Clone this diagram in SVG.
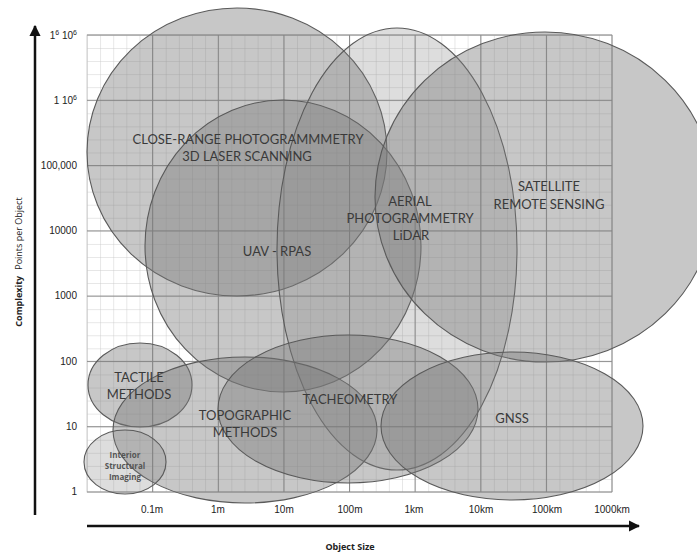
<svg xmlns="http://www.w3.org/2000/svg" width="697" height="554" viewBox="0 0 697 554">
  <style>
    .tick { font-family: "Liberation Sans", Arial, sans-serif; font-size: 10px; fill: #222; }
    .lbl { font-family: Lato, "Open Sans", sans-serif; font-size: 13px; fill: #3a3a3a; text-anchor: middle; }
    .small { font-family: "Open Sans", Lato, sans-serif; font-size: 8px; font-weight: bold; fill: #555; text-anchor: middle; }
    .zone { fill: #7a7a7a; fill-opacity: 0.42; stroke: #5a5a5a; stroke-width: 1.1; }
    .light { fill-opacity: 0.26; }
    .minor { stroke: #c4c4c4; stroke-width: 0.8; fill: none; }
    .major { stroke: #8c8c8c; stroke-width: 1; fill: none; }
    .axis { stroke: #111; stroke-width: 2.5; fill: none; }
  </style>
  <defs>
    <pattern id="cells" patternUnits="userSpaceOnUse" x="87" y="35" width="13.125" height="13.057">
      <path d="M0 0 H13.125 M0 0 V13.057" class="minor"/>
    </pattern>
    <marker id="head" viewBox="0 0 10 10" refX="9" refY="5" markerWidth="4.5" markerHeight="4.5" orient="auto" markerUnits="strokeWidth">
      <path d="M0 0 L10 5 L0 10 Z" fill="#111"/>
    </marker>
  </defs>

  <rect width="697" height="554" fill="#fff"/>

  <!-- log-log grid: 8 decades of size, 7 decades of complexity -->
  <g id="grid">
    <rect x="87" y="35" width="525" height="457" fill="url(#cells)"/>
    <rect x="87" y="35" width="525" height="457" class="minor"/>
    <path class="major" d="M152.6 35V492 M218.3 35V492 M283.9 35V492 M349.5 35V492 M415.1 35V492 M480.8 35V492 M546.4 35V492 M612 35V492
      M87 35H612 M87 100.3H612 M87 165.6H612 M87 230.9H612 M87 296.1H612 M87 361.4H612 M87 426.7H612 M87 492H612"/>
  </g>

  <!-- technique zones -->
  <g id="close-range">
    <ellipse class="zone" cx="237" cy="152" rx="150" ry="144"/>
  </g>
  <g id="uav">
    <ellipse class="zone" cx="283" cy="246" rx="138" ry="146"/>
  </g>
  <g id="aerial">
    <ellipse class="zone light" cx="397" cy="249" rx="120" ry="221"/>
  </g>
  <g id="satellite">
    <ellipse class="zone" cx="545" cy="197" rx="170" ry="165"/>
  </g>
  <g id="tactile">
    <ellipse class="zone" cx="140" cy="385" rx="52" ry="42"/>
  </g>
  <g id="topographic">
    <ellipse class="zone" cx="245" cy="430" rx="132" ry="73"/>
  </g>
  <g id="tacheometry">
    <ellipse class="zone" cx="348" cy="409" rx="130" ry="74"/>
  </g>
  <g id="gnss">
    <ellipse class="zone" cx="512" cy="426" rx="131" ry="74"/>
  </g>
  <g id="interior">
    <ellipse class="zone light" cx="125" cy="462" rx="41" ry="32"/>
  </g>

  <!-- zone labels -->
  <g id="labels">
    <text class="lbl" x="248" y="144">CLOSE-RANGE PHOTOGRAMMMETRY</text>
    <text class="lbl" x="247" y="161">3D LASER SCANNING</text>
    <text class="lbl" x="277" y="256">UAV - RPAS</text>
    <text class="lbl" x="410" y="206">AERIAL</text>
    <text class="lbl" x="410" y="223">PHOTOGRAMMETRY</text>
    <text class="lbl" x="411" y="240">LiDAR</text>
    <text class="lbl" x="549" y="191">SATELLITE</text>
    <text class="lbl" x="549" y="209">REMOTE SENSING</text>
    <text class="lbl" x="139" y="382">TACTILE</text>
    <text class="lbl" x="139" y="399">METHODS</text>
    <text class="lbl" x="245" y="420">TOPOGRAPHIC</text>
    <text class="lbl" x="245" y="437">METHODS</text>
    <text class="lbl" x="350" y="404" fill="#6a6a6a">TACHEOMETRY</text>
    <text class="lbl" x="512" y="423">GNSS</text>
    <text class="small" x="125" y="458">Interior</text>
    <text class="small" x="125" y="469">Structural</text>
    <text class="small" x="125" y="480">Imaging</text>
  </g>

  <!-- axes -->
  <g id="axes">
    <path class="axis" d="M35 515 V26" marker-end="url(#head)"/>
    <path class="axis" d="M87 526 H639" marker-end="url(#head)"/>
  </g>

  <g id="y-ticks" class="tick" text-anchor="end">
    <text x="77" y="39">1<tspan dy="-4" font-size="7">6</tspan><tspan dy="4"> 10</tspan><tspan dy="-4" font-size="7">6</tspan></text>
    <text x="77" y="104">1 10<tspan dy="-4" font-size="7">6</tspan></text>
    <text x="77" y="169">100,000</text>
    <text x="77" y="234">10000</text>
    <text x="77" y="299">1000</text>
    <text x="77" y="365">100</text>
    <text x="77" y="430">10</text>
    <text x="77" y="495">1</text>
  </g>

  <g id="x-ticks" class="tick" text-anchor="middle">
    <text x="152" y="513">0.1m</text>
    <text x="218" y="513">1m</text>
    <text x="284" y="513">10m</text>
    <text x="350" y="513">100m</text>
    <text x="414" y="513">1km</text>
    <text x="481" y="513">10km</text>
    <text x="547" y="513">100km</text>
    <text x="612" y="513">1000km</text>
  </g>

  <g id="axis-titles" font-family="'Open Sans', 'Liberation Sans', sans-serif" font-size="9" fill="#222">
    <text x="350" y="550" text-anchor="middle" font-weight="bold">Object Size</text>
    <text transform="translate(22 262) rotate(-90)" text-anchor="middle"><tspan font-weight="bold">Complexity</tspan><tspan dx="6">Points per Object</tspan></text>
  </g>
</svg>
